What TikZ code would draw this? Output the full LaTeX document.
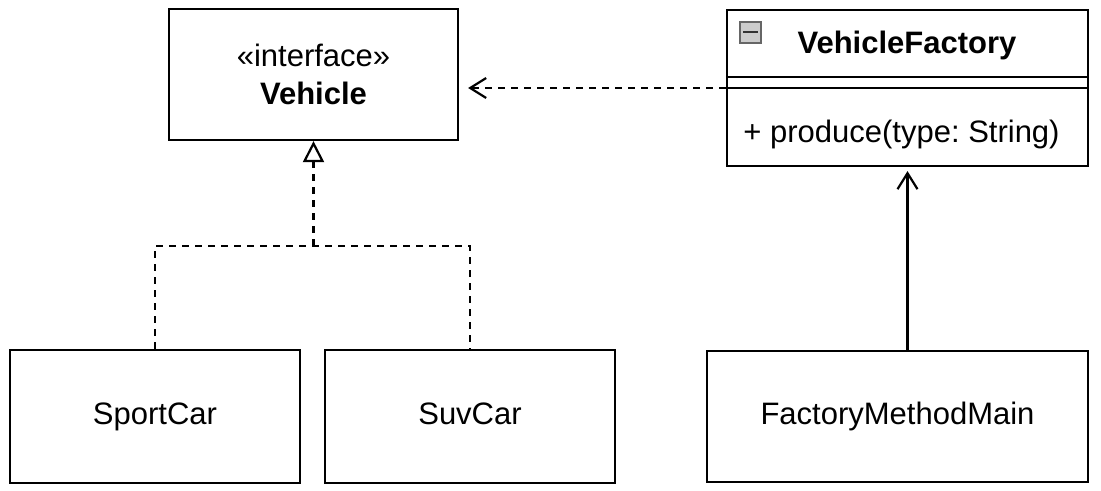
\documentclass[tikz,border=0pt]{standalone}
\usepackage{fontspec}
\setmainfont{Liberation Sans}
\usetikzlibrary{arrows.meta}
\frenchspacing
\begin{document}
\begin{tikzpicture}[x=0.5pt,y=-0.5pt,
  font=\fontsize{15.5}{19}\selectfont,
  umlbox/.style={draw, line width=1.1pt, fill=white, inner sep=0pt, align=center},
  simplebox/.style={umlbox, text height=11.2pt, text depth=3.3pt},
  conn/.style={line width=1.1pt},
  dashline/.style={conn, dash pattern=on 3.5pt off 3pt},
  openhead/.style={-{Straight Barb[length=8pt,width=10pt,line width=1.1pt]}},
  realhead/.style={-{Triangle[open,length=10.5pt,width=10.5pt,line width=1.1pt,fill=white]}}
]
\useasboundingbox[fill=white] (0,0) rectangle (1101,491);

% Vehicle interface
\node[umlbox, minimum width=144.5pt, minimum height=65.5pt] (vehicle) at (313.5,74.5)
  {«interface»\\\textbf{Vehicle}};

% VehicleFactory class
\node[umlbox, minimum width=180.5pt, minimum height=78pt] (vf) at (907.5,88) {};
\coordinate (hdr) at (0,77);
\coordinate (attr) at (0,88);
\draw[conn] (vf.west |- hdr) -- (vf.east |- hdr);
\draw[conn] (vf.west |- attr) -- (vf.east |- attr);
\node[font=\fontsize{15.5}{19}\selectfont\bfseries] (vftitle) at (907,45) {VehicleFactory};
\node[draw=gray!80!black, fill=gray!40, line width=0.6pt, minimum size=10.5pt, inner sep=0pt] (icon) at (750.5,32.5) {};
\draw[line width=1pt, black!80] ([xshift=2pt]icon.west) -- ([xshift=-2pt]icon.east);
\node[anchor=west, inner sep=0pt] (prod) at (743,134) {+ produce(type: String)};

% Implementations
\node[simplebox, minimum width=145pt, minimum height=66.5pt] (sport) at (155,416.5) {SportCar};
\node[simplebox, minimum width=145pt, minimum height=66.5pt] (suv) at (470,416.5) {SuvCar};
\node[simplebox, minimum width=190.5pt, minimum height=65.5pt] (fmm) at (897.5,416.5) {FactoryMethodMain};

% Realization
\coordinate (mid) at (313.5,246);
\draw[dashline] (sport.north) |- (mid) -| (suv.north);
\draw[dashline, realhead] (mid) -- (vehicle.south);

% Dependency
\coordinate (depstart) at (vf.west |- attr);
\draw[dashline, openhead, shorten >=4.5pt] (depstart) -- (vehicle.east |- depstart);

% Association
\draw[conn, openhead, shorten >=2pt] (fmm.north -| vf.south) -- (vf.south);
\end{tikzpicture}
\end{document}
